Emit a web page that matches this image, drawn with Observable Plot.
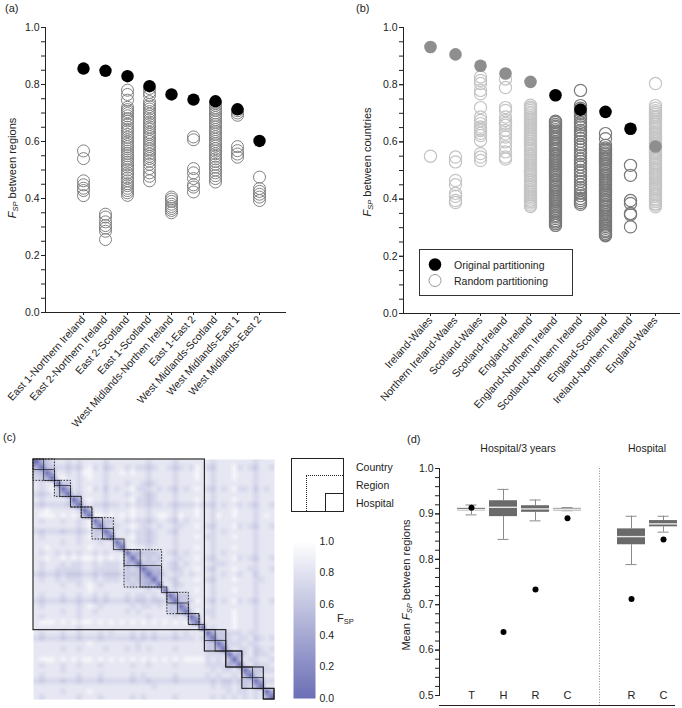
<!DOCTYPE html>
<html><head><meta charset="utf-8">
<script src="https://cdn.jsdelivr.net/npm/d3@7"></script>
<script src="https://cdn.jsdelivr.net/npm/@observablehq/plot@0.6"></script>
<style>
html,body{margin:0;padding:0;background:#fff;}
#root{position:relative;width:682px;height:708px;overflow:hidden;font-family:"Liberation Sans",Arial,Helvetica,sans-serif;color:#222;}
.t{position:absolute;white-space:nowrap;font-size:11px;line-height:14px;}
.rot{position:absolute;white-space:nowrap;transform:translate(-50%,-50%) rotate(-90deg);font-size:11px;line-height:14px;}
.sub{font-size:7.5px;position:relative;top:2px;}
</style></head><body><div id="root"></div>
<script>
// ---------- Panel (a) data ----------
const aCats = ["East 1-Northern Ireland","East 2-Northern Ireland","East 2-Scotland","East 1-Scotland","West Midlands-Northen Ireland","East 1-East 2","West Midlands-Scotland","West Midlands-East 1","West Midlands-East 2"];
const aOriginal = [0.856,0.848,0.829,0.794,0.765,0.747,0.741,0.713,0.602];
const aRandom = [
  [0.567,0.54,0.462,0.448,0.436,0.428,0.41],
  [0.345,0.335,0.318,0.305,0.296,0.285,0.256],
  [0.78,0.765,0.745,0.72,0.712,0.705,0.698,0.69,0.68,0.672,0.66,0.65,0.642,0.635,0.625,0.615,0.606,0.598,0.59,0.582,0.574,0.566,0.558,0.55,0.542,0.535,0.527,0.518,0.51,0.5,0.49,0.482,0.472,0.462,0.452,0.445,0.436,0.428,0.42,0.411],
  [0.786,0.772,0.762,0.74,0.73,0.722,0.714,0.705,0.696,0.688,0.677,0.668,0.66,0.651,0.643,0.632,0.625,0.617,0.608,0.6,0.59,0.583,0.574,0.566,0.556,0.548,0.54,0.531,0.52,0.505,0.49,0.478,0.462],
  [0.405,0.398,0.39,0.38,0.372,0.365,0.358,0.35],
  [0.616,0.606,0.505,0.49,0.47,0.448,0.44,0.423],
  [0.735,0.727,0.718,0.71,0.7,0.692,0.684,0.676,0.668,0.66,0.651,0.642,0.634,0.626,0.617,0.608,0.6,0.592,0.584,0.575,0.566,0.557,0.548,0.539,0.53,0.52,0.51,0.5,0.49,0.48,0.47,0.458],
  [0.708,0.7,0.692,0.582,0.568,0.556,0.545],
  [0.475,0.435,0.425,0.415,0.405,0.393]
];
const yMajorTicks = [0,0.2,0.4,0.6,0.8,1.0];

// ---------- Panel (b) data ----------
const bCats = ["Ireland-Wales","Northern Ireland-Wales","Scotland-Wales","Scotland-Ireland","England-Ireland","England-Northern Ireland","Scotland-Northern Ireland","England-Scotland","Ireland-Northern Ireland","England-Wales"];
const bOriginal = [0.932,0.906,0.866,0.839,0.81,0.763,0.713,0.705,0.646,0.584];
const bShade = ["grey","grey","grey","grey","grey","black","black","black","black","grey"];
const bRandom = [
  [0.55],
  [0.547,0.53,0.465,0.45,0.42,0.41,0.395,0.388],
  [0.827,0.815,0.804,0.78,0.768,0.72,0.687,0.675,0.664,0.652,0.645,0.64,0.63,0.622,0.605,0.559,0.547,0.535],
  [0.82,0.79,0.72,0.71,0.687,0.675,0.665,0.658,0.64,0.628,0.617,0.6,0.582,0.565,0.547,0.54],
  [0.728,0.721,0.716,0.710,0.703,0.698,0.692,0.685,0.680,0.674,0.667,0.662,0.656,0.649,0.644,0.638,0.631,0.626,0.620,0.613,0.608,0.602,0.595,0.590,0.584,0.577,0.572,0.566,0.559,0.554,0.548,0.541,0.536,0.530,0.523,0.518,0.512,0.505,0.500,0.494,0.487,0.482,0.476,0.469,0.464,0.458,0.451,0.446,0.440,0.433,0.428,0.422,0.415,0.410,0.404,0.397,0.392,0.386,0.379,0.374],
  [0.672,0.668,0.661,0.655,0.650,0.643,0.637,0.632,0.626,0.619,0.614,0.608,0.601,0.596,0.590,0.584,0.577,0.572,0.566,0.559,0.554,0.548,0.541,0.536,0.530,0.523,0.518,0.512,0.505,0.500,0.494,0.487,0.482,0.476,0.469,0.464,0.458,0.451,0.446,0.440,0.433,0.428,0.422,0.415,0.410,0.404,0.397,0.392,0.386,0.379,0.374,0.368,0.361,0.356,0.350,0.343,0.338,0.332,0.325,0.320,0.314,0.308],
  [0.78,0.727,0.718,0.708,0.700,0.690,0.680,0.668,0.660,0.652,0.640,0.632,0.622,0.612,0.602,0.590,0.582,0.572,0.560,0.552,0.540,0.532,0.522,0.512,0.500,0.492,0.480,0.470,0.462,0.450,0.440,0.432,0.420,0.412,0.402,0.395,0.388,0.382],
  [0.629,0.611,0.588,0.579,0.574,0.568,0.561,0.556,0.550,0.543,0.538,0.532,0.525,0.520,0.514,0.507,0.502,0.496,0.489,0.484,0.478,0.471,0.466,0.460,0.453,0.448,0.442,0.435,0.430,0.424,0.417,0.412,0.406,0.399,0.394,0.388,0.381,0.376,0.370,0.363,0.358,0.352,0.345,0.340,0.334,0.327,0.322,0.316,0.309,0.304,0.298,0.291,0.286,0.280,0.275,0.272],
  [0.518,0.483,0.395,0.385,0.35,0.345,0.303],
  [0.804,0.727,0.718,0.709,0.703,0.697,0.690,0.685,0.679,0.672,0.667,0.661,0.654,0.649,0.643,0.636,0.631,0.625,0.618,0.613,0.607,0.600,0.595,0.589,0.582,0.577,0.571,0.564,0.559,0.553,0.546,0.541,0.535,0.528,0.523,0.517,0.510,0.505,0.499,0.492,0.487,0.481,0.474,0.469,0.463,0.456,0.451,0.445,0.438,0.433,0.427,0.420,0.415,0.409,0.402,0.397,0.391,0.384,0.379,0.373]
];

// ---------- Panel (c) data: lower triangle of the FSP matrix, digit = tenth-bin ----------
const hmRows = [
"0","40","650","7640","8788 0","8789 60","7678 640","8788 887 0","7677 776 40","8898 888 87 0",
"8999 898 98 40","8788 878 87 89 0","8888 888 87 89 40","7677 767 76 78 660","8788 888 87 89 6740",
"8888 878 87 88 8788 0","8898 888 88 89 8888 40","8788 787 87 88 7878 88 0","8898 898 98 99 8989 89 50",
"8788 878 77 88 7877 78 450","8788 777 77 88 7777 78 676 0","7677 676 66 77 6766 67 666 40",
"8788 787 77 88 7877 78 676 540","8888 878 87 89 8788 88 767 5450","8888 888 88 89 8888 88 8888788 0",
"8788 878 87 88 7878 88 7877878 8 0","7677 767 76 77 6767 77 6766766 7 40","8788 888 87 89 8788 88 8787787 8 660",
"8888 878 87 88 7888 88 7878888 8 6640","8788 888 87 88 8888 88 8888788 8 8787 0","8999 898 98 99 8989 89 8989898 9 8989 40",
"8888 888 87 88 8888 88 8888888 8 8888 88 0","8788 878 87 88 8787 88 8787878 8 8787 88 8 0",
"7677 767 76 77 7677 77 7676767 7 7677 78 7 40","8888 888 88 89 8888 88 8878888 8 8888 88 8 660",
"8888 878 87 88 8878 88 7878788 8 8788 88 8 6640","8888 888 88 88 8888 88 8888888 8 8888 88 8 7777 0",
"8999 898 98 99 8989 89 8989898 9 8989 99 9 7878 50","8788 878 87 88 8788 88 8788788 8 8788 88 8 7777 450",
"8888 878 88 88 8888 88 8888888 8 8888 88 8 8787 787 0","8788 888 87 88 8788 88 8787888 8 8788 88 8 7878 878 40",
"7677 767 76 77 7677 77 7677677 7 7677 77 7 7676 676 660","8888 888 88 88 8888 88 8888878 8 8888 88 8 8787 787 6740",
"8888 878 88 89 8888 88 8888888 8 8888 88 8 8888 787 7878 0","8788 888 87 88 8788 88 8787888 8 8788 88 8 8787 878 7878 40"
];
const countryBlocks = [[0,32],[32,36],[36,39],[39,43],[43,45]];
const regionBlocks = [[0,4],[4,7],[7,9],[9,11],[11,15],[17,24],[25,29],[29,31]];
const hospitalBlocks = [[0,2],[2,4],[4,5],[5,7],[7,9],[9,11],[11,13],[13,15],[15,17],[17,20],[20,24],[24,25],[25,27],[27,29],[29,31],[31,32],[32,34],[34,36],[36,39],[39,41],[41,43],[43,45]];
const cbTicks = [0,0.2,0.4,0.6,0.8,1.0];

// ---------- Panel (d) data ----------
const dCats = ["T","H","R","C","gap","R2","C2"];
const dLabels = ["T","H","R","C","","R","C"];
const dBoxCats = ["T","H","R","C","R2","C2"];
const dQ1  = [0.9066,0.894,0.9035,0.9057,0.832,0.8715];
const dMed = [0.9094,0.9145,0.911,0.9094,0.850,0.878];
const dQ3  = [0.9123,0.929,0.918,0.9123,0.867,0.8853];
const dLo  = [0.8978,0.8438,0.8847,0.907,0.7884,0.8598];
const dHi  = [0.9197,0.954,0.9306,0.914,0.8948,0.8948];
const dObs = [0.9138,0.6396,0.7337,0.8904,0.7125,0.8438];
const dYTicks = [0.5,0.6,0.7,0.8,0.9,1.0];

// ---------- helpers ----------
const FONT = '"Liberation Sans", Arial, Helvetica, sans-serif';
const root = document.getElementById("root");
function place(el, left, top){ el.style.position="absolute"; el.style.left=left+"px"; el.style.top=top+"px"; root.appendChild(el); return el; }
function html(s, left, top, cls="t", extra=""){ const d=document.createElement("div"); d.className=cls; d.innerHTML=s; if(extra) d.style.cssText+=extra; return place(d,left,top); }
const baseStyle = {fontFamily:FONT, fontSize:"10.5px", color:"#222", background:"transparent", overflow:"visible"};
const LABEL_ROT = -48;
const LABEL_SIZE = 10.6;

// ---------- (a) ----------
const aRows = aCats.flatMap((c,i)=>aRandom[i].map(v=>({c,v})));
const aOrig = aCats.map((c,i)=>({c,v:aOriginal[i]}));
const yMinor = d3.ticks(0,1,20);
const plotA = Plot.plot({
  width:340, height:420, marginTop:27, marginBottom:108, marginLeft:45, marginRight:54,
  style: baseStyle,
  x:{type:"point", domain:aCats, range:[70,272], label:null},
  y:{domain:[0,1], label:null},
  marks:[
    Plot.axisY({ticks:yMinor, tickSize:4, tickFormat:()=>"", label:null}),
    Plot.axisY({ticks:yMajorTicks, tickSize:4, tickPadding:2, tickFormat:".1f", label:null}),
    Plot.axisX({tickSize:3, tickRotate:LABEL_ROT, fontSize:LABEL_SIZE, tickPadding:2, label:null}),
    Plot.frame({anchor:"left"}),
    Plot.ruleY([0]),
    Plot.dot(aRows,{x:"c", y:"v", r:6, stroke:"#808080", strokeWidth:1, fill:"none"}),
    Plot.dot(aOrig,{x:"c", y:"v", r:6.2, fill:"#000"})
  ]
});
place(plotA, 0, 0);

// ---------- (b) ----------
const strokeOf = {grey:"#c4c4c4", black:"#787878"};
const fillOf = {grey:"#8e8e8e", black:"#000000"};
const bRows = bCats.flatMap((c,i)=>bRandom[i].map(v=>({c,v,s:bShade[i]})));
const bOrig = bCats.map((c,i)=>({c,v:bOriginal[i],s:bShade[i]}));
const plotB = Plot.plot({
  width:342, height:420, marginTop:27, marginBottom:107, marginLeft:63, marginRight:2,
  style: baseStyle,
  x:{type:"point", domain:bCats, range:[77,327], label:null},
  y:{domain:[0,1], label:null},
  color:{type:"identity"},
  marks:[
    Plot.axisY({ticks:yMinor, tickSize:4, tickFormat:()=>"", label:null}),
    Plot.axisY({ticks:yMajorTicks, tickSize:4, tickPadding:2, tickFormat:".1f", label:null}),
    Plot.axisX({tickSize:3, tickRotate:LABEL_ROT, fontSize:LABEL_SIZE, tickPadding:2, label:null}),
    Plot.frame({anchor:"left"}),
    Plot.ruleY([0]),
    Plot.dot(bRows,{x:"c", y:"v", r:6.1, stroke:d=>strokeOf[d.s], strokeWidth:1.2, fill:"none"}),
    Plot.dot(bOrig,{x:"c", y:"v", r:6.3, fill:d=>fillOf[d.s]})
  ]
});
place(plotB, 340, 0);

// ---------- (c) heatmap ----------
const N = hmRows.length;
const hmCells = [];
hmRows.forEach((row,i)=>{
  const s = row.replace(/ /g,"");
  for (let j=0;j<s.length;j++){
    const v = (+s[j]+0.3)/10;
    hmCells.push({i,j,v});
    if (i!==j) hmCells.push({i:j,j:i,v});
  }
});
const colorOpts = {type:"linear", domain:[0,1], range:["#6b6fb5","#ffffff"], interpolate:"rgb"};
const blockOpts = {x1:d=>d[0], x2:d=>d[1], y1:d=>d[0], y2:d=>d[1], fill:"none", stroke:"#1a1a1a"};
const plotC = Plot.plot({
  width:245, height:244, marginTop:2, marginBottom:2, marginLeft:2, marginRight:2,
  style: baseStyle,
  x:{domain:[0,N], axis:null}, y:{domain:[0,N], reverse:true, axis:null},
  color: colorOpts,
  marks:[
    Plot.raster(hmCells,{x:d=>d.j+0.5, y:d=>d.i+0.5, fill:"v", width:N, height:N, x1:0, x2:N, y1:0, y2:N}),
    Plot.rect(hospitalBlocks,{...blockOpts, strokeWidth:0.7}),
    Plot.rect(regionBlocks,{...blockOpts, strokeWidth:0.9, strokeDasharray:"1.6,1.4"}),
    Plot.rect(countryBlocks,{...blockOpts, strokeWidth:1.1})
  ]
});
place(plotC, 31, 457);

// colour bar
const plotCB = Plot.plot({
  width:80, height:170, marginTop:6, marginBottom:7, marginLeft:3, marginRight:55,
  style: baseStyle,
  x:{domain:[0,1], axis:null}, y:{domain:[0,1], label:null},
  color: colorOpts,
  marks:[
    Plot.raster({x1:0, x2:1, y1:0, y2:1, width:2, height:200, fill:(x,y)=>y}),
    Plot.axisY({anchor:"right", ticks:cbTicks, tickSize:0, tickPadding:4, tickFormat:".1f", label:null, fontSize:10.5})
  ]
});
place(plotCB, 290, 535);

// ---------- (d) ----------
const dStats = dBoxCats.map((c,i)=>({c, q1:dQ1[i], med:dMed[i], q3:dQ3[i], lo:dLo[i], hi:dHi[i], obs:dObs[i]}));
const boxFill = {T:"#7b7b7b", H:"#6a6a6a", R:"#6a6a6a", C:"#a9a9a9", R2:"#6a6a6a", C2:"#6a6a6a"};
const whisk = "#8a8a8a";
const plotD = Plot.plot({
  width:302, height:253, marginTop:13, marginBottom:13, marginLeft:59, marginRight:7,
  style: baseStyle,
  x:{type:"band", domain:dCats, range:[73.8,300.2], paddingInner:0.13, paddingOuter:0.065, axis:null, label:null},
  y:{domain:[0.5,1], label:null},
  color:{type:"identity"},
  marks:[
    Plot.ruleX(["gap"],{x:d=>d, stroke:"#8a8a8a", strokeDasharray:"1,1.6", insetBottom:-11}),
    Plot.ruleX(dStats,{x:"c", y1:"lo", y2:"q1", stroke:whisk}),
    Plot.ruleX(dStats,{x:"c", y1:"q3", y2:"hi", stroke:whisk}),
    Plot.tickY(dStats,{x:"c", y:"lo", stroke:whisk, insetLeft:8.5, insetRight:8.5}),
    Plot.tickY(dStats,{x:"c", y:"hi", stroke:whisk, insetLeft:8.5, insetRight:8.5}),
    Plot.barY(dStats,{x:"c", y1:"q1", y2:"q3", fill:d=>boxFill[d.c]}),
    Plot.tickY(dStats,{x:"c", y:"med", stroke:"#e8e8e8", strokeWidth:1.4}),
    Plot.dot(dStats,{x:"c", y:"obs", r:3, fill:"#000"}),
    Plot.text(dCats,{x:d=>d, text:(d,i)=>dLabels[i], frameAnchor:"bottom", lineAnchor:"middle", fontSize:11}),
    Plot.axisY({ticks:d3.ticks(0.5,1,20), tickSize:4, tickFormat:()=>"", label:null}),
    Plot.axisY({ticks:dYTicks, tickSize:4, tickPadding:2, tickFormat:".1f", label:null}),
    Plot.frame({anchor:"left"}),
    Plot.ruleY([0.5],{dy:10})
  ]
});
place(plotD, 380, 455);

// ---------- texts ----------
html("(a)", 5, 1);
html("(b)", 356, 1);
html("(c)", 3, 430);
html("(d)", 407, 432);
const FSP = '<i>F</i><span class="sub"><i>SP</i></span>';
html(FSP+" between regions", 13, 168, "rot");
html(FSP+" between countries", 368, 162, "rot");
html("Mean "+FSP+" between regions", 407, 585, "rot");
html("Hospital/3 years", 518, 441, "t", "transform:translateX(-50%);font-size:10.5px;");
html("Hospital", 647, 441, "t", "transform:translateX(-50%);font-size:10.5px;");

// (b) legend
const lg = document.createElement("div");
lg.style.cssText = "width:152px;height:45px;border:1px solid #333;background:#fff;";
lg.innerHTML = '<svg width="30" height="45" style="position:absolute;left:0;top:0"><circle cx="15" cy="14.5" r="6.3" fill="#000"/><circle cx="15" cy="30.5" r="6" fill="none" stroke="#9a9a9a" stroke-width="1"/></svg>'
 + '<div class="t" style="left:34px;top:7.5px;font-size:10.5px">Original partitioning</div>'
 + '<div class="t" style="left:34px;top:23.5px;font-size:10.5px">Random partitioning</div>';
place(lg, 419, 249);

// (c) legend
const box1 = document.createElement("div"); box1.style.cssText="width:51px;height:52px;border:1px solid #222;"; place(box1,291,458);
const box2 = document.createElement("div"); box2.style.cssText="width:36px;height:35px;border-top:1px dotted #222;border-left:1px dotted #222;"; place(box2,306,475);
const box3 = document.createElement("div"); box3.style.cssText="width:17px;height:17px;border-top:1px solid #222;border-left:1px solid #222;"; place(box3,325,493);
html("Country", 356, 460, "t", "font-size:10.5px");
html("Region", 356, 478, "t", "font-size:10.5px");
html("Hospital", 356, 496, "t", "font-size:10.5px");
html('F<span class="sub">SP</span>', 337, 611, "t", "font-size:11px");
</script></body></html>
